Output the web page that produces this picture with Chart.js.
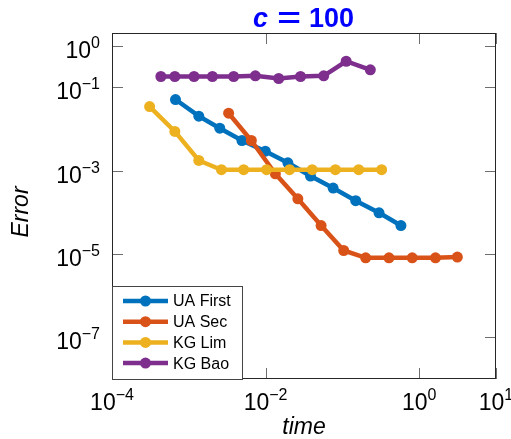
<!DOCTYPE html>
<html>
<head>
<meta charset="utf-8">
<script src="https://cdn.jsdelivr.net/npm/chart.js@4.4.0/dist/chart.umd.min.js"></script>
<style>
  html, body { margin: 0; padding: 0; background: #fff; }
  #wrap { width: 511px; height: 439px; }
</style>
</head>
<body>
<div id="wrap"><canvas id="grafico" width="511" height="439"></canvas></div>
<script>
// ===================== DADOS =====================
const seriesNames = ["UA First", "UA Sec", "KG Lim", "KG Bao"];
const seriesColors = ["#0072BD", "#D95319", "#EDB120", "#7E2F8E"];

const uaFirstTime = [6.71e-4, 1.35e-3, 2.53e-3, 4.92e-3, 9.91e-3, 1.95e-2, 3.84e-2, 7.57e-2, 0.149, 0.300, 0.578];
const uaFirstErr  = [5.07e-2, 2.02e-2, 1.04e-2, 5.27e-3, 2.92e-3, 1.54e-3, 7.4e-4, 3.8e-4, 1.9e-4, 9.7e-5, 4.8e-5];

const uaSecTime = [3.30e-3, 6.52e-3, 1.34e-2, 2.63e-2, 5.28e-2, 0.104, 0.201, 0.404, 0.811, 1.63, 3.14];
const uaSecErr  = [2.38e-2, 5.27e-3, 8.4e-4, 2.1e-4, 4.8e-5, 1.21e-5, 8.1e-6, 8.1e-6, 8.1e-6, 8.1e-6, 8.4e-6];

const kgLimTime = [3.09e-4, 6.58e-4, 1.35e-3, 2.66e-3, 5.18e-3, 1.03e-2, 2.05e-2, 4.04e-2, 8.11e-2, 0.163, 0.324];
const kgLimErr  = [3.44e-2, 8.7e-3, 1.75e-3, 1.05e-3, 1.05e-3, 1.05e-3, 1.05e-3, 1.05e-3, 1.05e-3, 1.05e-3, 1.05e-3];

const kgBaoTime = [4.33e-4, 6.58e-4, 1.17e-3, 2.03e-3, 3.84e-3, 7.35e-3, 1.48e-2, 2.85e-2, 5.71e-2, 0.112, 0.231];
const kgBaoErr  = [0.181, 0.181, 0.181, 0.181, 0.181, 0.188, 0.162, 0.181, 0.188, 0.420, 0.261];

const xTicks = [-4, -2, 0, 1];          // expoentes de 10
const yTicks = [0, -1, -3, -5, -7];

const allTimes = [uaFirstTime, uaSecTime, kgLimTime, kgBaoTime];
const allErrs = [uaFirstErr, uaSecErr, kgLimErr, kgBaoErr];

const FONT = "'Liberation Sans', Arial, Helvetica, sans-serif";
const AXIS = "#262626";

function pontos(xs, ys) {
  return xs.map((x, i) => ({ x: x, y: ys[i] }));
}

// desenha "10" com expoente sobrescrito
function potencia(ctx, exp, x, y, align) {
  const base = "10";
  const sup = exp < 0 ? "\u2212" + Math.abs(exp) : String(exp);
  ctx.font = "23px " + FONT;
  const wb = ctx.measureText(base).width;
  ctx.font = "16px " + FONT;
  const ws = ctx.measureText(sup).width;
  let left = x;
  if (align === "center") left = x - (wb + ws) / 2;
  if (align === "right") left = x - (wb + ws);
  ctx.textAlign = "left";
  ctx.textBaseline = "alphabetic";
  ctx.font = "23px " + FONT;
  ctx.fillText(base, left, y);
  ctx.font = "16px " + FONT;
  ctx.fillText(sup, left + wb, y - 10);
}

// ===================== PLUGIN: eixos, rótulos, legenda =====================
const molduraPlugin = {
  id: "moldura",
  afterDraw(chart) {
    const { ctx, chartArea: a } = chart;
    const sx = chart.scales.x;
    const sy = chart.scales.y;
    ctx.save();

    // ticks internos
    ctx.lineWidth = 1;
    ctx.strokeStyle = "#6e6e6e";
    const tl = 11;
    xTicks.forEach((e) => {
      const px = Math.round(sx.getPixelForValue(Math.pow(10, e))) + 0.5;
      ctx.beginPath();
      ctx.moveTo(px, a.bottom); ctx.lineTo(px, a.bottom - tl);
      ctx.moveTo(px, a.top); ctx.lineTo(px, a.top + tl);
      ctx.stroke();
    });
    yTicks.forEach((e) => {
      const py = Math.round(sy.getPixelForValue(Math.pow(10, e))) + 0.5;
      ctx.beginPath();
      ctx.moveTo(a.left, py); ctx.lineTo(a.left + tl, py);
      ctx.moveTo(a.right, py); ctx.lineTo(a.right - tl, py);
      ctx.stroke();
    });

    // caixa
    ctx.strokeStyle = AXIS;
    ctx.strokeRect(a.left + 0.5, a.top + 0.5, a.right - a.left - 1, a.bottom - a.top - 1);

    // rótulos dos ticks
    ctx.fillStyle = "#000";
    xTicks.forEach((e) => {
      potencia(ctx, e, sx.getPixelForValue(Math.pow(10, e)), a.bottom + 31, "center");
    });
    yTicks.forEach((e) => {
      potencia(ctx, e, a.left - 12, sy.getPixelForValue(Math.pow(10, e)) + 12, "right");
    });

    // títulos dos eixos
    ctx.font = "italic 23px " + FONT;
    ctx.textAlign = "center";
    ctx.textBaseline = "alphabetic";
    ctx.fillText("time", 304, 434);
    ctx.save();
    ctx.translate(28, 212);
    ctx.rotate(-Math.PI / 2);
    ctx.fillText("Error", 0, 0);
    ctx.restore();

    // título  c = 100
    ctx.fillStyle = "#0000FF";
    ctx.textAlign = "left";
    ctx.font = "italic bold 27px " + FONT;
    ctx.fillText("c", 253, 27);
    ctx.save();
    ctx.font = "bold 27px " + FONT;
    ctx.translate(289, 27);
    ctx.scale(1.5, 1);
    ctx.textAlign = "center";
    ctx.fillText("=", 0, 0);
    ctx.restore();
    ctx.font = "bold 27px " + FONT;
    ctx.fillText("100", 309, 27);

    // legenda
    const lx = a.left, ly = 286, lw = 130, lh = a.bottom - 286;
    ctx.fillStyle = "#fff";
    ctx.fillRect(lx + 1, ly, lw, lh);
    ctx.strokeStyle = "#444";
    ctx.lineWidth = 1;
    ctx.strokeRect(lx + 0.5, ly + 0.5, lw, lh);
    seriesNames.forEach((nome, i) => {
      const ry = 301 + i * 20.7;
      ctx.strokeStyle = seriesColors[i];
      ctx.lineWidth = 4.5;
      ctx.beginPath();
      ctx.moveTo(lx + 11, ry); ctx.lineTo(lx + 56, ry);
      ctx.stroke();
      ctx.fillStyle = seriesColors[i];
      ctx.beginPath();
      ctx.arc(lx + 33.5, ry, 5.5, 0, Math.PI * 2);
      ctx.fill();
      ctx.fillStyle = "#000";
      ctx.font = "16px " + FONT;
      ctx.textBaseline = "middle";
      ctx.fillText(nome, lx + 61, ry + 1);
    });
    ctx.restore();
  }
};

// ===================== GRÁFICO =====================
const datasets = seriesNames.map((nome, i) => ({
  label: nome,
  data: pontos(allTimes[i], allErrs[i]),
  borderColor: seriesColors[i],
  backgroundColor: seriesColors[i],
  pointBackgroundColor: seriesColors[i],
  pointBorderColor: seriesColors[i],
  borderWidth: 4.5,
  pointRadius: 5.5,
  pointBorderWidth: 0,
  showLine: true,
  tension: 0,
  order: seriesNames.length - i
}));

new Chart(document.getElementById("grafico"), {
  type: "scatter",
  data: { datasets: datasets },
  options: {
    responsive: false,
    devicePixelRatio: 1,
    animation: false,
    layout: { padding: { left: 112, right: 15, top: 33, bottom: 60 } },
    plugins: {
      legend: { display: false },
      title: { display: false },
      tooltip: { enabled: false }
    },
    scales: {
      x: { type: "logarithmic", min: 1e-4, max: 10, display: false },
      y: { type: "logarithmic", min: 1e-8, max: 2, display: false }
    }
  },
  plugins: [molduraPlugin]
});
</script>
</body>
</html>
